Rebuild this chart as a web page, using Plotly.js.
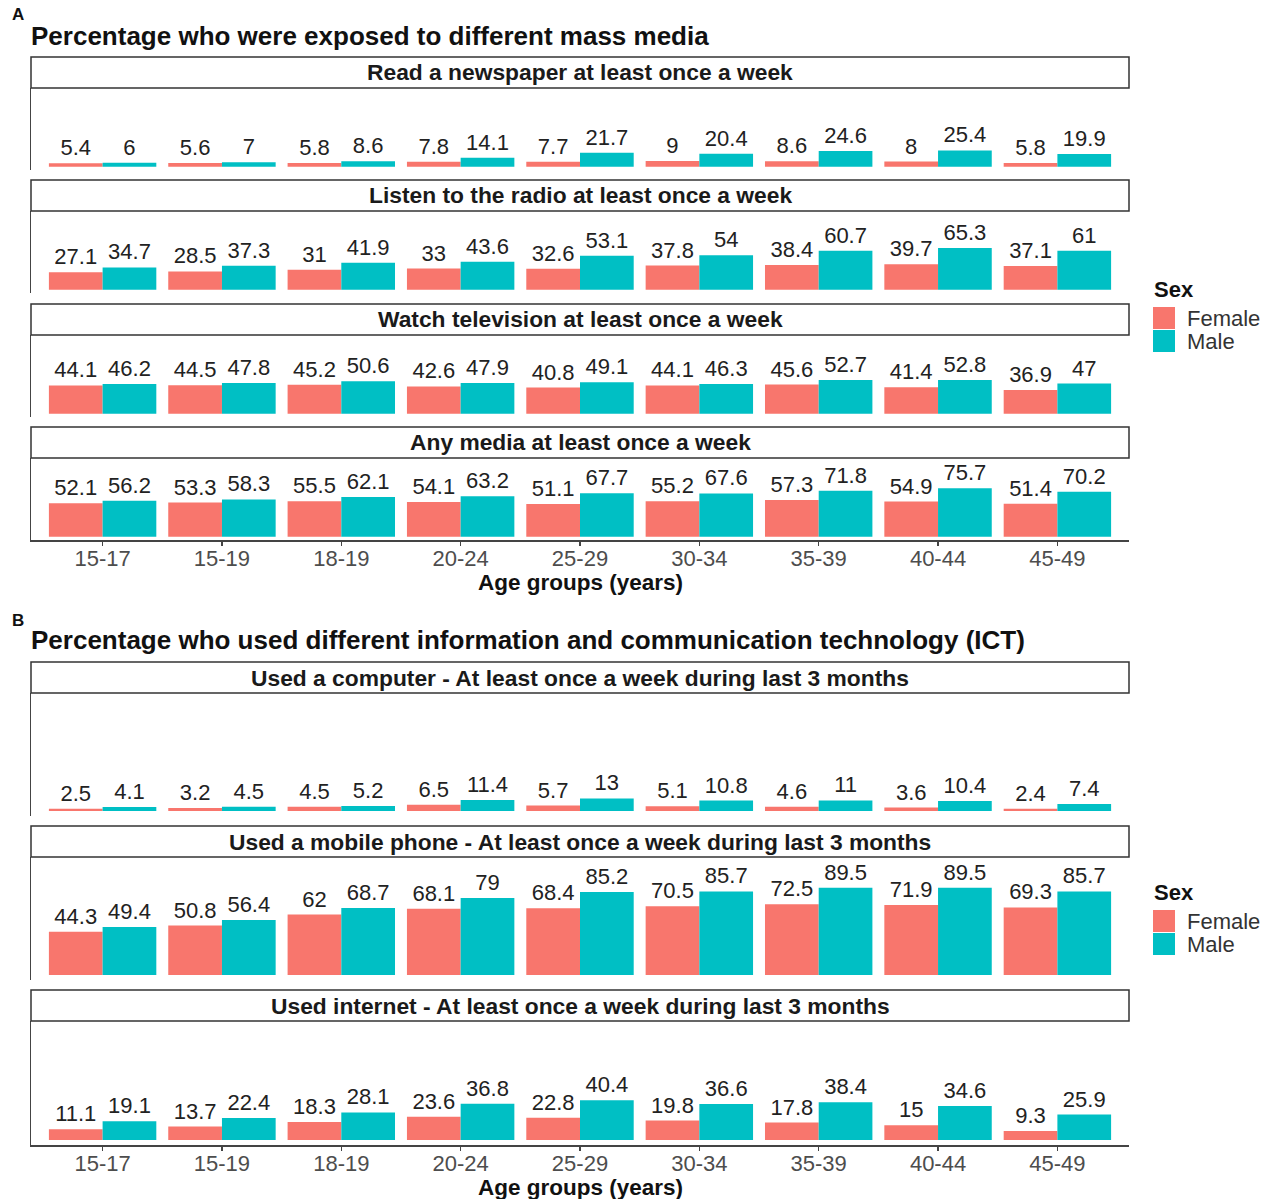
<!DOCTYPE html>
<html>
<head>
<meta charset="utf-8">
<script src="https://cdn.plot.ly/plotly-3.0.1.min.js"></script>
<style>
  html, body { margin: 0; padding: 0; background: #fff; }
  #chart { width: 1272px; height: 1199px; }
</style>
</head>
<body>
<div id="chart"></div>
<script>
// Age groups shown along the x axis of every facet
const ageGroups = ["15-17", "15-19", "18-19", "20-24", "25-29", "30-34", "35-39", "40-44", "45-49"];
const sexes = ["Female", "Male"];

// A: mass media exposure (%)
const newspaperFemale = [5.4, 5.6, 5.8, 7.8, 7.7, 9, 8.6, 8, 5.8];
const newspaperMale   = [6, 7, 8.6, 14.1, 21.7, 20.4, 24.6, 25.4, 19.9];
const radioFemale     = [27.1, 28.5, 31, 33, 32.6, 37.8, 38.4, 39.7, 37.1];
const radioMale       = [34.7, 37.3, 41.9, 43.6, 53.1, 54, 60.7, 65.3, 61];
const tvFemale        = [44.1, 44.5, 45.2, 42.6, 40.8, 44.1, 45.6, 41.4, 36.9];
const tvMale          = [46.2, 47.8, 50.6, 47.9, 49.1, 46.3, 52.7, 52.8, 47];
const anyMediaFemale  = [52.1, 53.3, 55.5, 54.1, 51.1, 55.2, 57.3, 54.9, 51.4];
const anyMediaMale    = [56.2, 58.3, 62.1, 63.2, 67.7, 67.6, 71.8, 75.7, 70.2];

// B: ICT use (%)
const computerFemale  = [2.5, 3.2, 4.5, 6.5, 5.7, 5.1, 4.6, 3.6, 2.4];
const computerMale    = [4.1, 4.5, 5.2, 11.4, 13, 10.8, 11, 10.4, 7.4];
const mobileFemale    = [44.3, 50.8, 62, 68.1, 68.4, 70.5, 72.5, 71.9, 69.3];
const mobileMale      = [49.4, 56.4, 68.7, 79, 85.2, 85.7, 89.5, 89.5, 85.7];
const internetFemale  = [11.1, 13.7, 18.3, 23.6, 22.8, 19.8, 17.8, 15, 9.3];
const internetMale    = [19.1, 22.4, 28.1, 36.8, 40.4, 36.6, 38.4, 34.6, 25.9];

// Facet strip labels
const stripLabels = [
  "Read a newspaper at least once a week",
  "Listen to the radio at least once a week",
  "Watch television at least once a week",
  "Any media at least once a week",
  "Used a computer - At least once a week during last 3 months",
  "Used a mobile phone - At least once a week during last 3 months",
  "Used internet - At least once a week during last 3 months"
];
const panelTitles = [
  "Percentage who were exposed to different mass media",
  "Percentage who used different information and communication technology (ICT)"
];
const panelLetters = ["A", "B"];
const xAxisTitle = "Age groups (years)";
const legendTitle = "Sex";

const facetValues = [
  [newspaperFemale, newspaperMale],
  [radioFemale, radioMale],
  [tvFemale, tvMale],
  [anyMediaFemale, anyMediaMale],
  [computerFemale, computerMale],
  [mobileFemale, mobileMale],
  [internetFemale, internetMale]
];

// ---- layout geometry (pixels) ----
const W = 1272, H = 1199;
const px = v => v / W;
const py = v => 1 - v / H;
const FONT = "'Liberation Sans', Arial, Helvetica, sans-serif";
const colors = ["#F8766D", "#00BFC4"];
const plotLeft = 31, plotRight = 1129;
const stripH = 31;
// strip top edge and panel bottom edge for each facet
const stripTops = [57, 180, 304, 427, 662, 826, 990];
const panelBottoms = [170, 293, 417, 540, 816, 980, 1145];
const yRanges = [
  [-5.2, 123], [-5.2, 123], [-5.2, 123], [-5.2, 123],
  [-5, 121], [-5, 121], [-5, 121]
];
const bottomFacets = [3, 6]; // facets that carry the x axis

const traces = [];
const layout = {
  width: W, height: H, autosize: false,
  margin: { l: 0, r: 0, t: 0, b: 0, pad: 0 },
  paper_bgcolor: "#fff", plot_bgcolor: "#fff",
  font: { family: FONT, color: "#1a1a1a" },
  barmode: "group", bargap: 0.1, bargroupgap: 0,
  showlegend: false,
  hovermode: false,
  shapes: [], annotations: []
};

facetValues.forEach((pair, i) => {
  const n = i === 0 ? "" : String(i + 1);
  pair.forEach((vals, s) => {
    traces.push({
      type: "bar",
      x: ageGroups, y: vals,
      name: sexes[s],
      xaxis: "x" + n, yaxis: "y" + n,
      offsetgroup: sexes[s],
      marker: { color: colors[s], line: { width: 0 } },
      text: vals.map(String),
      textposition: "outside",
      textangle: 0,
      constraintext: "none",
      cliponaxis: false,
      textfont: { family: FONT, size: 22, color: "#222" }
    });
  });

  const isBottom = bottomFacets.includes(i);
  layout["xaxis" + n] = {
    domain: [px(plotLeft), px(plotRight)],
    anchor: "y" + n,
    type: "category",
    range: [-0.6, 8.6],
    showgrid: false, zeroline: false,
    showline: isBottom, linecolor: "#444", linewidth: 1.5,
    ticks: isBottom ? "outside" : "", ticklen: 4, tickwidth: 1.2, tickcolor: "#444",
    showticklabels: isBottom,
    ticklabelstandoff: -6,
    tickfont: { family: FONT, size: 22, color: "#4d4d4d" },
    fixedrange: true
  };
  layout["yaxis" + n] = {
    domain: [py(panelBottoms[i]), py(stripTops[i] + stripH)],
    anchor: "x" + n,
    range: yRanges[i],
    showgrid: false, zeroline: false,
    showline: true, linecolor: "#444", linewidth: 1.5,
    ticks: "", showticklabels: false,
    fixedrange: true
  };

  // facet strip box and label
  layout.shapes.push({
    type: "rect", xref: "paper", yref: "paper",
    x0: px(plotLeft), x1: px(plotRight),
    y0: py(stripTops[i] + stripH), y1: py(stripTops[i]),
    line: { color: "#333", width: 1.5 }, fillcolor: "#fff"
  });
  layout.annotations.push({
    xref: "paper", yref: "paper",
    x: px((plotLeft + plotRight) / 2), y: py(stripTops[i] + stripH / 2),
    xanchor: "center", yanchor: "middle", showarrow: false,
    text: stripLabels[i],
    font: { family: FONT, size: 22.8, weight: 700, color: "#1a1a1a" }
  });

  if (isBottom) {
    layout.annotations.push({
      xref: "paper", yref: "paper",
      x: px((plotLeft + plotRight) / 2), y: py(panelBottoms[i] + 42),
      xanchor: "center", yanchor: "middle", showarrow: false,
      text: xAxisTitle,
      font: { family: FONT, size: 22.5, weight: 700, color: "#111" }
    });
  }
});

// panel letters and titles
const titleY = [36, 640];
const letterY = [15, 620];
[0, 1].forEach(p => {
  layout.annotations.push({
    xref: "paper", yref: "paper", x: px(10), y: py(letterY[p]),
    xanchor: "left", yanchor: "middle", showarrow: false,
    text: panelLetters[p],
    font: { family: FONT, size: 17, weight: 700, color: "#111" }
  });
  layout.annotations.push({
    xref: "paper", yref: "paper", x: px(29), y: py(titleY[p]),
    xanchor: "left", yanchor: "middle", showarrow: false,
    text: panelTitles[p],
    font: { family: FONT, size: 26, weight: 700, color: "#111" }
  });
});

// legend blocks (one per panel)
const legendTop = [289, 892];
legendTop.forEach(ly => {
  layout.annotations.push({
    xref: "paper", yref: "paper", x: px(1152), y: py(ly),
    xanchor: "left", yanchor: "middle", showarrow: false,
    text: legendTitle,
    font: { family: FONT, size: 22, weight: 700, color: "#111" }
  });
  sexes.forEach((s, k) => {
    const top = ly + 18 + k * 23;
    layout.shapes.push({
      type: "rect", xref: "paper", yref: "paper",
      x0: px(1153), x1: px(1175), y0: py(top + 22), y1: py(top),
      line: { width: 0 }, fillcolor: colors[k]
    });
    layout.annotations.push({
      xref: "paper", yref: "paper", x: px(1185), y: py(top + 11),
      xanchor: "left", yanchor: "middle", showarrow: false,
      text: s,
      font: { family: FONT, size: 22, color: "#333" }
    });
  });
});

Plotly.newPlot("chart", traces, layout, { staticPlot: true, displayModeBar: false });
</script>
</body>
</html>
